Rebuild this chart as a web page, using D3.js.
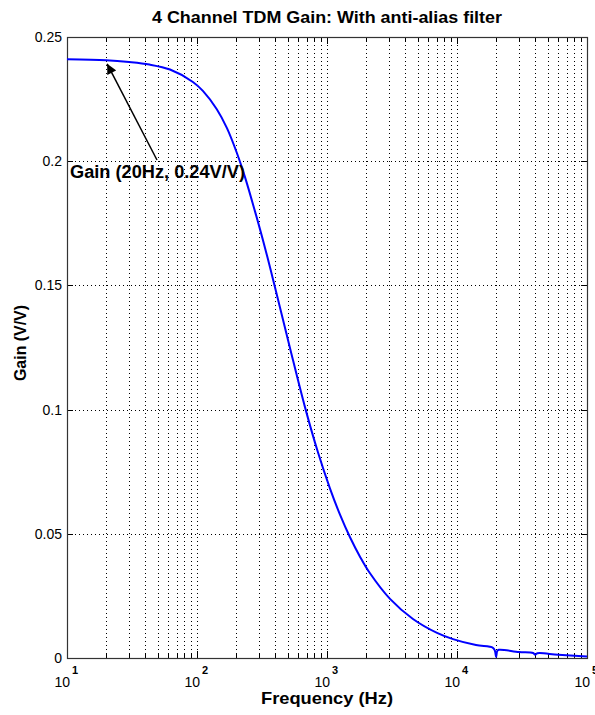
<!DOCTYPE html>
<html>
<head>
<meta charset="utf-8">
<script src="https://cdn.jsdelivr.net/npm/d3@7"></script>
<style>
  body { margin: 0; background: #fff; }
  svg { display: block; font-family: "Liberation Sans", Arial, Helvetica, sans-serif; }
</style>
</head>
<body>
<svg id="chart" width="595" height="715"></svg>
<script>
// values
var freqHz = [10, 20, 30, 43, 62, 93, 111, 142, 170, 203, 234, 279, 334, 398, 519, 677, 853,
  1055, 1259, 1503, 1794, 2142, 3052, 4587, 7019, 9317, 14000, 18900, 19600, 20000, 20400,
  21000, 30000, 38500, 40000, 41500, 60000, 100000];
var gainVV = [0.2410, 0.2406, 0.2399, 0.2389, 0.2369, 0.2319, 0.2283, 0.2209, 0.2133, 0.2032,
  0.1936, 0.1799, 0.1650, 0.1493, 0.1248, 0.1010, 0.0827, 0.0682, 0.0577, 0.0486, 0.0408,
  0.0341, 0.0238, 0.0157, 0.0101, 0.0076, 0.0052, 0.0041, 0.0028, 0.0004, 0.0028, 0.0033,
  0.0024, 0.0020, 0.0013, 0.0019, 0.0013, 0.0006];
var yTicks = [0, 0.05, 0.1, 0.15, 0.2, 0.25];
var yTickLabels = ["0", "0.05", "0.1", "0.15", "0.2", "0.25"];
var xDecades = [1, 2, 3, 4, 5];
var annot = { f: 20, g: 0.24, text: "Gain (20Hz, 0.24V/V)" };

var svg = d3.select("#chart");
var L = 67, R = 587, T = 37, B = 658;

var x = d3.scaleLog().domain([10, 1e5]).range([L, R]);
var y = d3.scaleLinear().domain([0, 0.25]).range([B, T]);

// minor + major log positions
var minors = [], majors = [];
xDecades.forEach(function(e) {
  majors.push(Math.pow(10, e));
  if (e < 5) {
    for (var m = 2; m <= 9; m++) minors.push(m * Math.pow(10, e));
  }
});

var grid = svg.append("g").attr("stroke", "#000").attr("stroke-width", 1)
  .attr("stroke-dasharray", "1,3").attr("shape-rendering", "crispEdges");
grid.selectAll(".vx").data(minors.concat(majors.slice(1, -1))).enter().append("line")
  .attr("x1", function(d) { return Math.round(x(d)) + 0.5; })
  .attr("x2", function(d) { return Math.round(x(d)) + 0.5; })
  .attr("y1", T).attr("y2", B);
grid.selectAll(".hy").data(yTicks.slice(1, -1)).enter().append("line")
  .attr("x1", L).attr("x2", R)
  .attr("y1", function(d) { return Math.round(y(d)) + 0.5; })
  .attr("y2", function(d) { return Math.round(y(d)) + 0.5; });

// ticks
var tk = svg.append("g").attr("stroke", "#000").attr("stroke-width", 1).attr("shape-rendering", "crispEdges");
function xTick(d, len) {
  var px = Math.round(x(d)) + 0.5;
  tk.append("line").attr("x1", px).attr("x2", px).attr("y1", B).attr("y2", B - len);
  tk.append("line").attr("x1", px).attr("x2", px).attr("y1", T).attr("y2", T + len);
}
minors.forEach(function(d) { xTick(d, 4); });
majors.forEach(function(d) { xTick(d, 7); });
yTicks.forEach(function(d) {
  var py = Math.round(y(d)) + 0.5;
  tk.append("line").attr("x1", L).attr("x2", L + 6).attr("y1", py).attr("y2", py);
  tk.append("line").attr("x1", R).attr("x2", R - 6).attr("y1", py).attr("y2", py);
});

// box
svg.append("rect").attr("x", L + 0.5).attr("y", T + 0.5).attr("width", R - L).attr("height", B - T)
  .attr("fill", "none").attr("stroke", "#333").attr("stroke-width", 1.2);

// curve
var line = d3.line().x(function(d) { return x(d[0]); }).y(function(d) { return y(d[1]); })
  .curve(d3.curveCatmullRom.alpha(0.5));
svg.append("path").datum(d3.zip(freqHz, gainVV)).attr("d", line)
  .attr("fill", "none").attr("stroke", "#0000ff").attr("stroke-width", 2);

// y tick labels
svg.selectAll(".yl").data(yTicks).enter().append("text")
  .attr("x", L - 5).attr("y", function(d) { return y(d) + 5; })
  .attr("text-anchor", "end").attr("font-size", 14)
  .text(function(d, i) { return yTickLabels[i]; });

// x tick labels: 10^n
xDecades.forEach(function(e) {
  var px = x(Math.pow(10, e));
  svg.append("text").attr("x", px + 3).attr("y", 687).attr("text-anchor", "end")
    .attr("font-size", 14).text("10");
  svg.append("text").attr("x", px + 5).attr("y", 674).attr("font-size", 11)
    .attr("font-weight", "bold").text(e);
});

// titles
svg.append("text").attr("x", (L + R) / 2).attr("y", 23).attr("text-anchor", "middle")
  .attr("font-size", 16.5).attr("font-weight", "bold")
  .attr("textLength", 350).attr("lengthAdjust", "spacingAndGlyphs")
  .text("4 Channel TDM Gain: With anti-alias filter");
svg.append("text").attr("x", (L + R) / 2).attr("y", 704).attr("text-anchor", "middle")
  .attr("font-size", 16.5).attr("font-weight", "bold")
  .attr("textLength", 132).attr("lengthAdjust", "spacingAndGlyphs")
  .text("Frequency (Hz)");
svg.append("text").attr("transform", "translate(26,343) rotate(-90)")
  .attr("text-anchor", "middle").attr("font-size", 16.5).attr("font-weight", "bold")
  .attr("textLength", 76).attr("lengthAdjust", "spacingAndGlyphs")
  .text("Gain (V/V)");

// annotation arrow
var ax = x(annot.f), ay = y(annot.g);
var sx = 157, sy = 160;
svg.append("defs").append("marker").attr("id", "ah").attr("viewBox", "0 0 10 10")
  .attr("refX", 10).attr("refY", 5).attr("markerWidth", 12).attr("markerHeight", 10)
  .attr("markerUnits", "userSpaceOnUse").attr("orient", "auto")
  .append("path").attr("d", "M0,0 L10,5 L0,10 z").attr("fill", "#000");
svg.append("line").attr("x1", sx).attr("y1", sy).attr("x2", ax + 1).attr("y2", ay + 2)
  .attr("stroke", "#000").attr("stroke-width", 1.5).attr("marker-end", "url(#ah)");
svg.append("text").attr("x", 70).attr("y", 178).attr("font-size", 17.5).attr("font-weight", "bold")
  .attr("textLength", 175).attr("lengthAdjust", "spacingAndGlyphs")
  .text(annot.text);
</script>
</body>
</html>
